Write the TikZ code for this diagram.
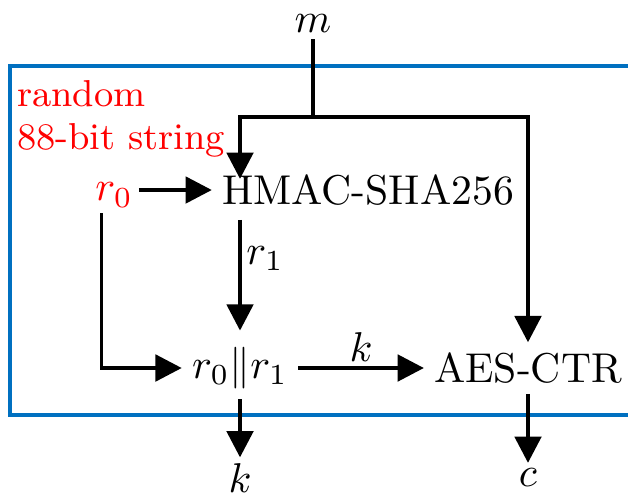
\documentclass[tikz,border=0pt]{standalone}
\usepackage{tikz}
\usetikzlibrary{arrows.meta,positioning}
\definecolor{boxblue}{HTML}{0070C0}
\definecolor{rndred}{HTML}{FF0000}

\begin{document}
\begin{tikzpicture}[
    x=0.24pt, y=-0.24pt,
    every node/.style={inner sep=1.5pt, outer sep=0pt, font=\normalsize},
    arr/.style={-{Triangle[length=6.3pt, width=6.4pt]}, line width=0.75pt},
    wire/.style={line width=0.75pt},
    frame/.style={draw=boxblue, line width=0.75pt},
    rnd/.style={text=rndred}
  ]
    \useasboundingbox (0,0) rectangle (628,495);
    \clip (0,0) rectangle (628,495);

    % Random box
    \draw[frame] (10,66) rectangle (660,415);
    \node[rnd, font=\small, align=left, anchor=north west, inner sep=0pt] (lbl) at (17,80)
      {random\\[-0.6pt]88-bit string};

    % Inputs and blocks
    \node (m) at (313,24) {$m$};
    \node[rnd] (r0) at (114,195) {$r_0$};
    \node (hmac) at (368,190) {HMAC-SHA256};
    \node (concat) at (240,368) {$r_0\|r_1$};
    \node (aes) at (528,368) {AES-CTR};
    \node (kout) at (240,478) {$k$};
    \node (cout) at (528,478) {$c$};
    \coordinate (split) at (313,117);

    % Edges
    \draw[wire] (m) -- (split);
    \draw[arr] (split) -| ([yshift=-2.5pt]concat |- hmac.north);
    \draw[arr] (split) -| ([yshift=1pt]aes.north);
    \draw[arr] (r0.east |- hmac) -- ([xshift=-1pt]hmac.west);
    \draw[arr] ([yshift=-2pt]concat |- hmac.south) -- node[right, pos=0.35] {$r_1$} ([yshift=2.5pt]concat.north);
    \draw[arr] ([xshift=3pt]r0.south west) |- ([xshift=-1pt]concat.west);
    \draw[arr] ([xshift=1pt]concat.east) -- node[above] {$k$} ([xshift=-1pt]aes.west);
    \draw[arr] ([yshift=-1pt]concat.south) -- (kout.north);
    \draw[arr] ([yshift=-1pt]aes.south) -- (cout.north);
  \end{tikzpicture}
\end{document}
